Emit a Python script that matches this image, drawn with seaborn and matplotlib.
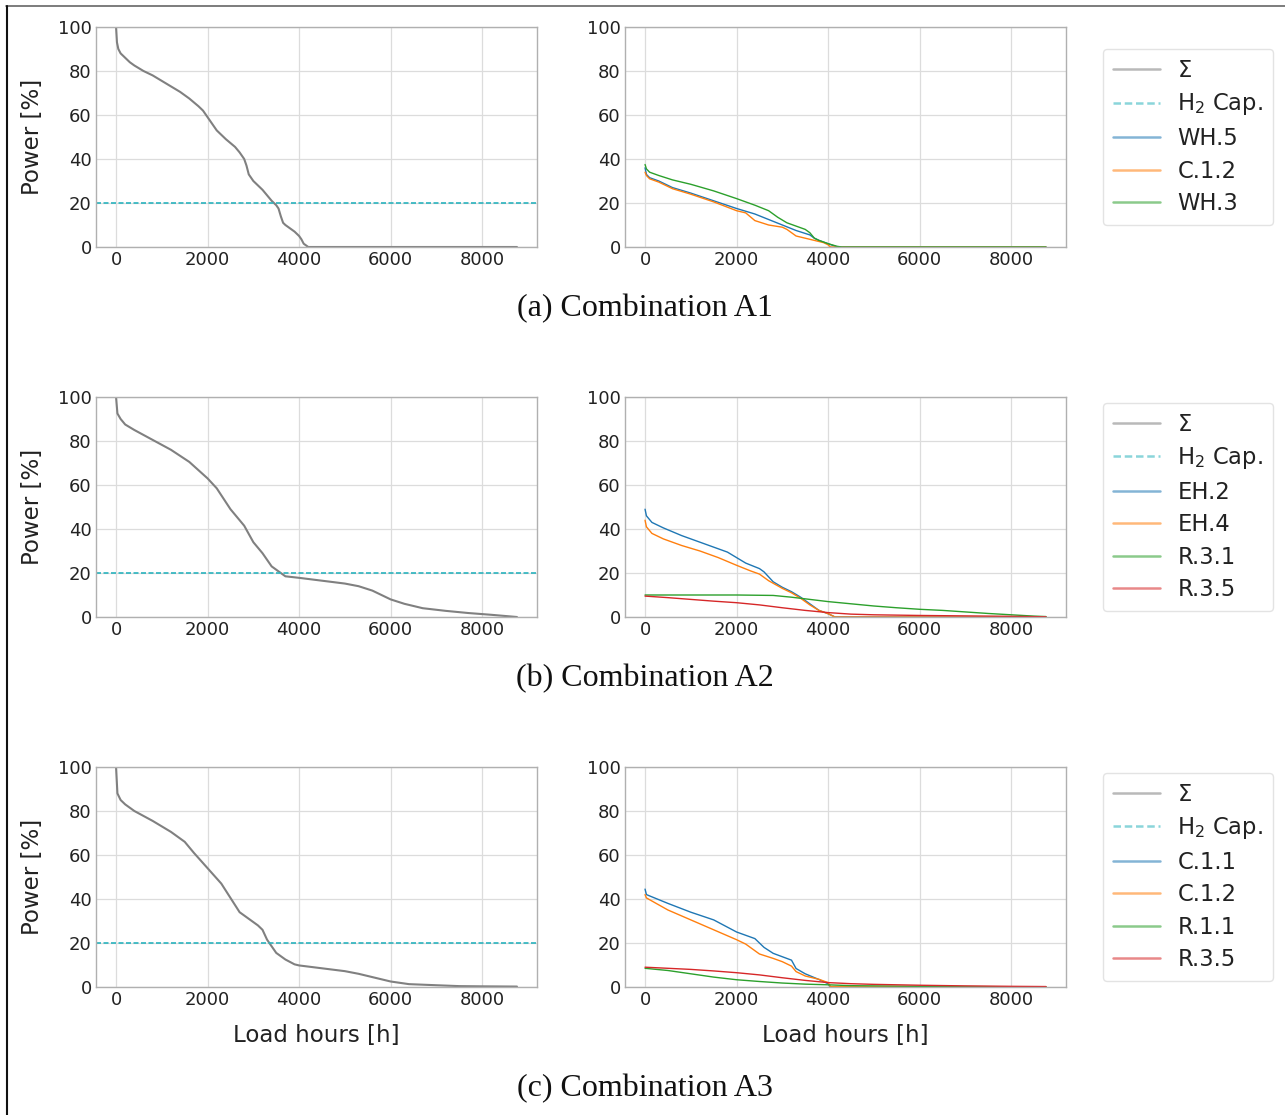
import matplotlib
matplotlib.use("Agg")
import matplotlib.pyplot as plt
import seaborn as sns
from matplotlib.lines import Line2D

# ---------------- data ----------------
h2_cap = 20
xticks = [0, 2000, 4000, 6000, 8000]
yticks = [0, 20, 40, 60, 80, 100]
captions = ["(a) Combination A1", "(b) Combination A2", "(c) Combination A3"]
sum_label = "Σ"
cap_label = "H$_2$ Cap."

# Combination A1
a1_sum_x = [0, 20, 50, 100, 200, 300, 400, 600, 800, 1000, 1200, 1400, 1600, 1800, 1900, 2000, 2100,
            2200, 2400, 2600, 2700, 2800, 2850, 2900, 3000, 3200, 3400, 3500, 3550, 3600, 3650, 3700,
            3800, 3900, 4000, 4050, 4100, 4200, 4500, 8760]
a1_sum_y = [100, 93, 90, 88, 86, 84, 82.5, 80, 78, 75.5, 73, 70.5, 67.5, 64, 62, 59, 56,
            53, 49, 45.5, 43, 40, 37, 33, 30, 26, 21, 19, 17.5, 14, 11, 10,
            8.5, 7, 5, 3.5, 1.5, 0, 0, 0]
a1_labels = ["WH.5", "C.1.2", "WH.3"]
a1_s1_x = [0, 30, 100, 300, 600, 1000, 1500, 2000, 2400, 2700, 3000, 3300, 3600, 3700, 3800, 4000, 4200, 8760]
a1_s1_y = [36, 33, 31.5, 30, 27, 24.5, 21, 17.5, 15, 12.5, 10, 7.5, 5.5, 4, 3, 1.5, 0, 0]
a1_s2_x = [0, 30, 100, 300, 600, 1000, 1500, 2000, 2200, 2400, 2700, 3000, 3100, 3300, 3600, 3800, 3900, 4000, 4050, 8760]
a1_s2_y = [34, 32.5, 31, 29.5, 26.5, 24, 20.5, 16.5, 15.5, 12, 10, 9, 8, 5, 3.5, 2.5, 2, 1, 0, 0]
a1_s3_x = [0, 30, 100, 300, 600, 1000, 1500, 2000, 2400, 2700, 2900, 3100, 3300, 3500, 3600, 3700, 3800, 4000, 4200, 4300, 8760]
a1_s3_y = [37.5, 35.5, 34, 32.5, 30.5, 28.5, 25.5, 22, 19, 16.5, 13.5, 11, 9.5, 8, 6.5, 4, 3, 1.5, 0.3, 0, 0]

# Combination A2
a2_sum_x = [0, 30, 100, 200, 400, 800, 1200, 1600, 2000, 2200, 2500, 2800, 3000, 3200, 3400, 3600,
            3700, 4000, 4500, 5000, 5300, 5600, 6000, 6300, 6700, 7200, 7700, 8200, 8760]
a2_sum_y = [100, 92.5, 90, 87.5, 85, 80.5, 76, 70.5, 63, 58.5, 49, 41.5, 34, 29, 23, 20,
            18.5, 17.8, 16.5, 15.2, 14, 12, 8, 6, 4, 2.8, 1.8, 1, 0]
a2_labels = ["EH.2", "EH.4", "R.3.1", "R.3.5"]
a2_s1_x = [0, 30, 150, 400, 800, 1200, 1600, 1800, 2000, 2200, 2500, 2600, 2800, 3000, 3200, 3400, 3600, 3800, 4000, 4150, 8760]
a2_s1_y = [49, 46, 43, 40.5, 37, 34, 31, 29.5, 27, 24.5, 22, 20.5, 16, 13.5, 11.5, 9, 6, 3, 1.5, 0, 0]
a2_s2_x = [0, 30, 150, 400, 800, 1200, 1600, 2000, 2300, 2500, 2700, 3000, 3200, 3400, 3600, 3800, 4000, 4150, 8760]
a2_s2_y = [44, 41, 38, 35.5, 32.5, 30, 27, 23.5, 21, 19.5, 16.5, 13, 11, 8.5, 5.5, 3, 1.5, 0, 0]
a2_s3_x = [0, 1000, 2000, 2800, 3200, 3600, 4000, 4500, 5000, 5500, 6000, 6500, 7000, 7500, 8000, 8500, 8760]
a2_s3_y = [10, 10, 10, 9.8, 9, 8, 7, 6, 5, 4.2, 3.5, 3, 2.3, 1.6, 1, 0.4, 0.2]
a2_s4_x = [0, 500, 1000, 1500, 2000, 2500, 3000, 3500, 4000, 4500, 5000, 6000, 7000, 8000, 8760]
a2_s4_y = [9.5, 8.8, 8, 7.2, 6.5, 5.5, 4.2, 3, 2, 1.3, 1, 0.7, 0.5, 0.3, 0.1]

# Combination A3
a3_sum_x = [0, 30, 100, 200, 400, 800, 1200, 1500, 1700, 2000, 2300, 2500, 2700, 2900, 3100, 3200,
            3300, 3400, 3500, 3700, 3900, 4000, 4500, 5000, 5300, 5600, 6000, 6400, 7000, 7500, 8000, 8760]
a3_sum_y = [100, 88, 85, 83, 80, 75.5, 70.5, 66, 61, 54, 47, 40.5, 34, 31, 28, 26,
            21.5, 18.5, 15.5, 12.5, 10.3, 9.8, 8.5, 7.2, 6, 4.5, 2.5, 1.3, 0.8, 0.4, 0.3, 0.2]
a3_labels = ["C.1.1", "C.1.2", "R.1.1", "R.3.5"]
a3_s1_x = [0, 30, 500, 1000, 1500, 2000, 2400, 2600, 2800, 3200, 3300, 3500, 3800, 4000, 4050, 8760]
a3_s1_y = [44.5, 42, 38, 34, 30.5, 25, 22, 18, 15.3, 12.2, 8.4, 6, 3.4, 1.5, 0, 0]
a3_s2_x = [0, 30, 200, 500, 1000, 1500, 2000, 2200, 2300, 2500, 2800, 3000, 3200, 3300, 3500, 3800, 4000, 4050, 8760]
a3_s2_y = [42, 40.5, 38.5, 35, 30.5, 26, 21.5, 19.5, 18, 15, 13, 11.5, 9.5, 7, 5, 3.5, 2, 0.2, 0.1]
a3_s3_x = [0, 500, 1000, 1500, 2000, 2500, 3000, 3500, 4000, 4500, 5000, 6000, 7000, 8000, 8760]
a3_s3_y = [8.5, 7.5, 6, 4.5, 3.3, 2.5, 1.8, 1.3, 1, 0.6, 0.5, 0.3, 0.2, 0.1, 0.05]
a3_s4_x = [0, 500, 1000, 1500, 2000, 2500, 3000, 3500, 4000, 4500, 5000, 6000, 7000, 8000, 8760]
a3_s4_y = [9, 8.5, 8, 7.3, 6.5, 5.5, 4.2, 3, 2, 1.5, 1.2, 0.8, 0.5, 0.3, 0.2]

rows = [
    (a1_sum_x, a1_sum_y, a1_labels, [(a1_s1_x, a1_s1_y), (a1_s2_x, a1_s2_y), (a1_s3_x, a1_s3_y)]),
    (a2_sum_x, a2_sum_y, a2_labels, [(a2_s1_x, a2_s1_y), (a2_s2_x, a2_s2_y), (a2_s3_x, a2_s3_y), (a2_s4_x, a2_s4_y)]),
    (a3_sum_x, a3_sum_y, a3_labels, [(a3_s1_x, a3_s1_y), (a3_s2_x, a3_s2_y), (a3_s3_x, a3_s3_y), (a3_s4_x, a3_s4_y)]),
]

# ---------------- style ----------------
sns.set_theme(style="whitegrid")
plt.rcParams['font.family'] = ['DejaVu Sans']
plt.rcParams.update({
    'axes.edgecolor': '#b0b0b0',
    'axes.linewidth': 1.0,
    'grid.color': '#dcdcdc',
    'grid.linewidth': 0.9,
    'xtick.color': '#222222',
    'ytick.color': '#222222',
    'axes.labelcolor': '#222222',
})
series_colors = ['#1f77b4', '#ff7f0e', '#2ca02c', '#d62728']
sum_color = '#808080'
cap_color = '#2ab3bd'

W, H = 1285, 1115
fig = plt.figure(figsize=(W / 100, H / 100), dpi=100)

ax_w = 441 / W
ax_h = 220 / H
left_x = [96 / W, 625 / W]
bottoms = [1 - 247 / H, 1 - 617 / H, 1 - 987 / H]
caption_y = [1 - 309 / H, 1 - 679 / H, 1 - 1089 / H]

for r, (sx, sy, labels, series) in enumerate(rows):
    axl = fig.add_axes([left_x[0], bottoms[r], ax_w, ax_h])
    axr = fig.add_axes([left_x[1], bottoms[r], ax_w, ax_h])

    sns.lineplot(x=sx, y=sy, ax=axl, color=sum_color, linewidth=1.5, label=sum_label)
    axl.axhline(h2_cap, color=cap_color, linestyle='--', linewidth=1.2, dashes=(3, 1.5), label=cap_label)

    for i, ((x, y), lab) in enumerate(zip(series, labels)):
        sns.lineplot(x=x, y=y, ax=axr, color=series_colors[i], linewidth=1.0, label=lab)

    for ax in (axl, axr):
        ax.set_ylim(0, 100)
        ax.set_xticks(xticks)
        ax.set_yticks(yticks)
        ax.tick_params(labelsize=13, length=0, pad=3)
        ax.set_xlabel("")
        ax.set_ylabel("")
        if ax.get_legend() is not None:
            ax.get_legend().remove()
        if r == 2:
            ax.set_xlabel("Load hours [h]", fontsize=16.5, labelpad=11)

    axl.set_ylabel("Power [%]", fontsize=16.5)
    axl.yaxis.set_label_coords(-0.118, 0.5)

    hl, ll = axl.get_legend_handles_labels()
    hr, lr = axr.get_legend_handles_labels()
    leg = axr.legend(hl + hr, ll + lr, loc='center left', bbox_to_anchor=(1.083, 0.5),
                     borderaxespad=0, fontsize=16.3, frameon=True, fancybox=True,
                     handlelength=2.1, labelspacing=0.42, borderpad=0.45, handletextpad=0.75)
    leg.get_frame().set_edgecolor('#dddddd')
    for t in leg.get_texts():
        t.set_color('#222222')
    for h in leg.get_lines():
        h.set_alpha(0.55)
        h.set_linewidth(1.8)

    fig.text(0.502, caption_y[r], captions[r], ha='center', va='center',
             fontsize=23, family='Liberation Serif', color='#111111')

# frame of the original figure box
fig.add_artist(Line2D([6 / W, 1.0], [1 - 6 / H, 1 - 6 / H], color='#666666', linewidth=1.2))
fig.add_artist(Line2D([7 / W, 7 / W], [0, 1 - 6 / H], color='#111111', linewidth=1.5))

fig.savefig("out.png", dpi=100)
